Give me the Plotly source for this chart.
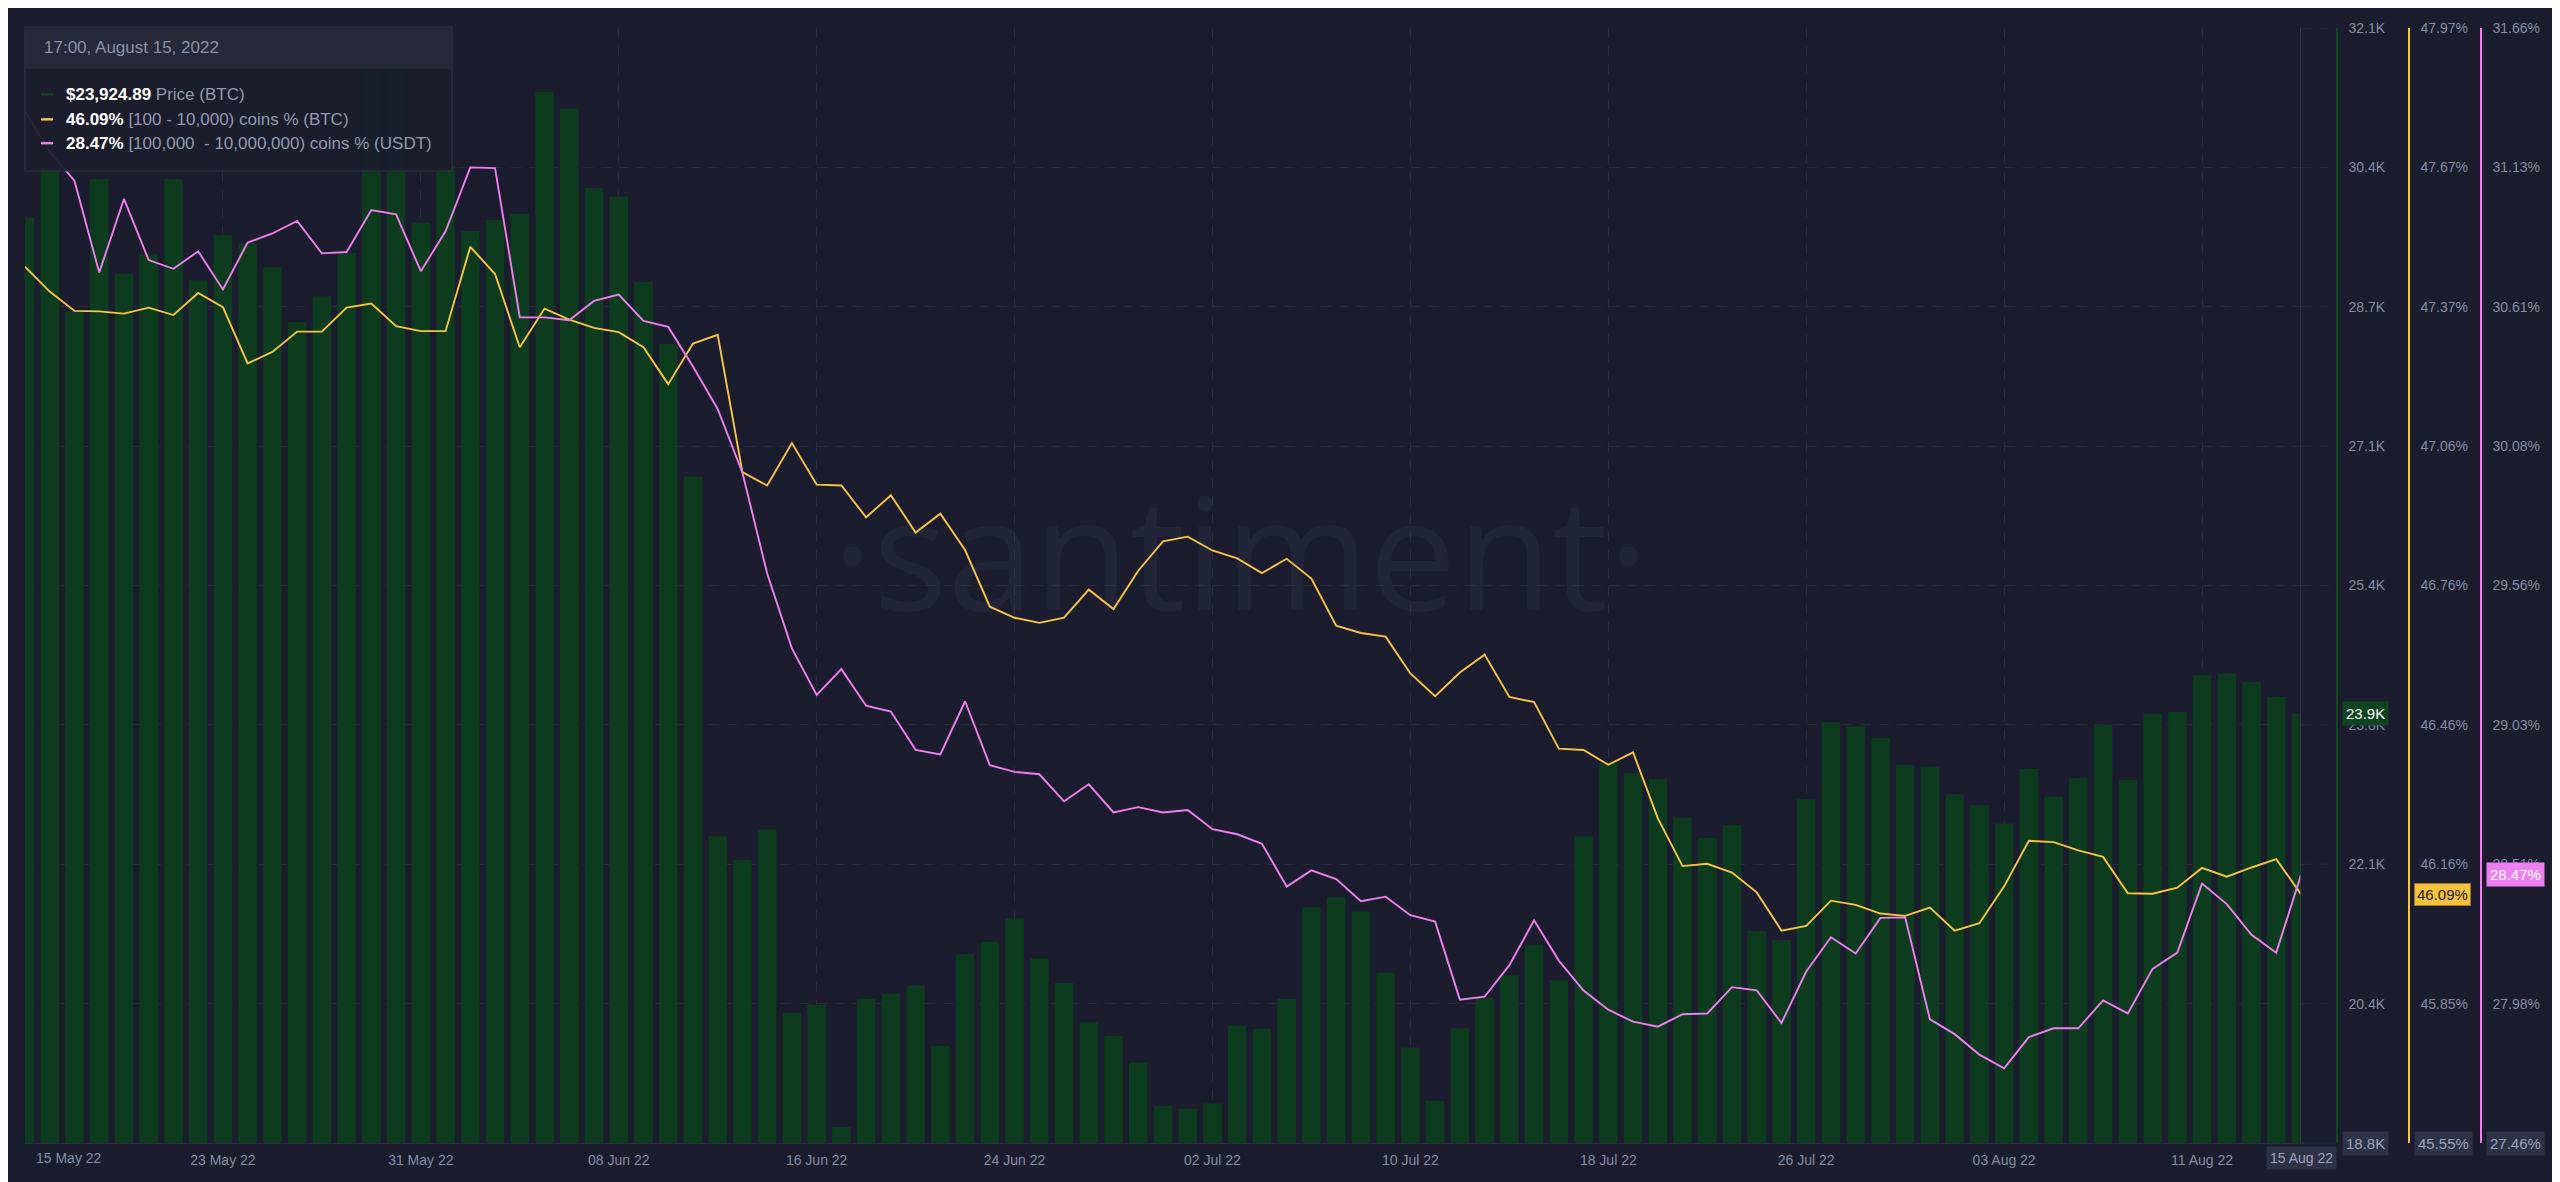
import plotly.graph_objects as go
import pandas as pd

# ---------------- data ----------------
dates = pd.date_range("2022-05-15", "2022-08-15", freq="D")

price_usd = [
    29840, 30420, 28720, 30300, 29170, 29400, 30300, 29090, 29630, 29530,   # 15-24 May
    29250, 28590, 28900, 29420, 31700, 31770, 29780,                        # 25-31 May
    30450, 29680, 29810, 29880, 31340, 31140, 30190, 30090, 29070, 28330,   # 01-10 Jun
    26750, 22460, 22180, 22540, 20350, 20450, 18990, 20520, 20580, 20680,   # 11-20 Jun
    19960, 21050, 21200, 21480, 21000, 20710, 20240, 20080, 19760, 19240,   # 21-30 Jun
    19210, 19270, 20200, 20160, 20520, 21610, 21730, 21560, 20830, 19940,   # 01-10 Jul
    19300, 20170, 20540, 20800, 21160, 20740, 22460, 23340, 23210, 23140,   # 11-20 Jul
    22680, 22440, 22590, 21330, 21220, 22900, 23820, 23770, 23630, 23310,   # 21-30 Jul
    23290,                                                                  # 31 Jul
    22960, 22830, 22610, 23260, 22930, 23150, 23790, 23130, 23920, 23940,   # 01-10 Aug
    24380, 24400, 24300, 24120, 23924.89,                                   # 11-15 Aug
]

coins_btc_pct = [
    47.452, 47.398, 47.356, 47.355, 47.350, 47.363, 47.347, 47.395, 47.364, 47.242,
    47.267, 47.311, 47.311, 47.363, 47.372, 47.323, 47.312,
    47.312, 47.495, 47.436, 47.277, 47.361, 47.337, 47.319, 47.310, 47.277, 47.197,
    47.285, 47.304, 47.006, 46.977, 47.069, 46.979, 46.977, 46.908, 46.956, 46.875,
    46.916, 46.837, 46.714, 46.690, 46.679, 46.690, 46.751, 46.709, 46.792, 46.856,
    46.866, 46.836, 46.819, 46.787, 46.818, 46.775, 46.673, 46.657, 46.649, 46.569,
    46.520, 46.571, 46.610, 46.518, 46.507, 46.406, 46.403, 46.371, 46.398, 46.255,
    46.151, 46.156, 46.137, 46.094, 46.011, 46.021, 46.076, 46.067, 46.048, 46.043,
    46.061,
    46.011, 46.027, 46.107, 46.206, 46.203, 46.185, 46.171, 46.092, 46.091, 46.104,
    46.147, 46.128, 46.148, 46.166, 46.09,
]

coins_usdt_pct = [
    31.346, 31.193, 31.085, 30.739, 31.016, 30.786, 30.753, 30.819, 30.675, 30.852,
    30.886, 30.933, 30.811, 30.816, 30.974, 30.958, 30.744,
    30.894, 31.135, 31.132, 30.570, 30.570, 30.559, 30.632, 30.656, 30.557, 30.534,
    30.385, 30.225, 29.985, 29.605, 29.323, 29.148, 29.245, 29.107, 29.085, 28.941,
    28.924, 29.124, 28.883, 28.858, 28.849, 28.747, 28.811, 28.705, 28.725, 28.705,
    28.714, 28.642, 28.623, 28.587, 28.426, 28.487, 28.454, 28.371, 28.388, 28.318,
    28.294, 28.000, 28.011, 28.130, 28.299, 28.147, 28.034, 27.962, 27.917, 27.898,
    27.945, 27.948, 28.047, 28.035, 27.912, 28.106, 28.235, 28.174, 28.308, 28.310,
    27.926,
    27.870, 27.793, 27.741, 27.859, 27.892, 27.892, 27.997, 27.948, 28.116, 28.177,
    28.437, 28.360, 28.244, 28.177, 28.47,
]

price_ticks = [18800, 20462.5, 22125, 23787.5, 25450, 27112.5, 28775, 30437.5, 32100]
price_tick_text = ["18.8K", "20.4K", "22.1K", "23.8K", "25.4K", "27.1K", "28.7K", "30.4K", "32.1K"]
btc_ticks = [45.55, 45.8525, 46.155, 46.4575, 46.76, 47.0625, 47.365, 47.6675, 47.97]
btc_tick_text = ["45.55%", "45.85%", "46.16%", "46.46%", "46.76%", "47.06%", "47.37%", "47.67%", "47.97%"]
usdt_ticks = [27.46, 27.985, 28.51, 29.035, 29.56, 30.085, 30.61, 31.135, 31.66]
usdt_tick_text = ["27.46%", "27.98%", "28.51%", "29.03%", "29.56%", "30.08%", "30.61%", "31.13%", "31.66%"]

x_tick_dates = ["2022-05-15", "2022-05-23", "2022-05-31", "2022-06-08", "2022-06-16", "2022-06-24",
                "2022-07-02", "2022-07-10", "2022-07-18", "2022-07-26", "2022-08-03", "2022-08-11"]
x_tick_text = ["15 May 22", "23 May 22", "31 May 22", "08 Jun 22", "16 Jun 22", "24 Jun 22",
               "02 Jul 22", "10 Jul 22", "18 Jul 22", "26 Jul 22", "03 Aug 22", "11 Aug 22"]

series_names = ["Price (BTC)", "[100 - 10,000) coins % (BTC)", "[100,000  - 10,000,000) coins % (USDT)"]

# ---------------- style ----------------
BG = "#1b1d2e"
GRID = "#282b3d"
TICK = "#868ba3"
FONT = "Liberation Sans, Arial, sans-serif"
BAR_C = "#0d3b1d"
PRICE_AXIS_C = "#13481f"
YEL = "#f7c544"
PINK = "#ee80ee"
BOX = "#2f3246"

# page body has an 8px margin; geometry below is in screen pixels
OFF = 8
W, H = 2560 - OFF, 1182 - OFF
SCR_L, SCR_R, SCR_T, SCR_B = 25, 2540, 20, 1143     # plot area in screen pixels
ML, MT = SCR_L - OFF, SCR_T - OFF
MR = W - (SCR_R - OFF)
MB = H - (SCR_B - OFF)
PW, PH = SCR_R - SCR_L, SCR_B - SCR_T


def px(x):
    return (x - SCR_L) / PW


def py(y):
    return (SCR_B - y) / PH


fig = go.Figure()
fig.add_trace(go.Bar(x=dates, y=price_usd, name=series_names[0], marker_color=BAR_C,
                     marker_line_width=0, width=0.75 * 86400000, yaxis="y", hoverinfo="skip"))
fig.add_trace(go.Scatter(x=dates, y=coins_btc_pct, name=series_names[1], mode="lines",
                         line=dict(color=YEL, width=1.9), yaxis="y2", hoverinfo="skip"))
fig.add_trace(go.Scatter(x=dates, y=coins_usdt_pct, name=series_names[2], mode="lines",
                         line=dict(color=PINK, width=1.9), yaxis="y3", hoverinfo="skip"))

tickfont = dict(family=FONT, size=14, color=TICK)

fig.update_layout(
    width=W, height=H,
    margin=dict(l=ML, r=MR, t=MT, b=MB),
    paper_bgcolor=BG, plot_bgcolor=BG,
    showlegend=False, hovermode=False,
    xaxis=dict(
        type="date", domain=[0, px(2301)],
        range=[dates[0], dates[-1]],
        tickvals=x_tick_dates[1:], ticktext=x_tick_text[1:],
        showgrid=True, gridcolor=GRID, griddash="10px,8px", gridwidth=1,
        showline=True, linecolor="#2c2f43", linewidth=1,
        ticks="", tickfont=tickfont, ticklabelstandoff=4,
        zeroline=False, fixedrange=True,
    ),
    yaxis=dict(
        side="right", anchor="free", position=px(2337),
        range=[price_ticks[0], price_ticks[-1]],
        tickvals=price_ticks[1:], ticktext=price_tick_text[1:],
        showgrid=True, gridcolor=GRID, griddash="10px,8px",
        showline=True, linecolor=PRICE_AXIS_C, linewidth=1.5,
        ticks="", tickfont=tickfont, ticklabelstandoff=8,
        zeroline=False, fixedrange=True,
    ),
    yaxis2=dict(
        side="right", anchor="free", position=px(2409), overlaying="y",
        range=[btc_ticks[0], btc_ticks[-1]],
        tickvals=btc_ticks[1:], ticktext=btc_tick_text[1:],
        showgrid=False, showline=True, linecolor=YEL, linewidth=1.5,
        ticks="", tickfont=tickfont, ticklabelstandoff=8,
        zeroline=False, fixedrange=True,
    ),
    yaxis3=dict(
        side="right", anchor="free", position=px(2481), overlaying="y",
        range=[usdt_ticks[0], usdt_ticks[-1]],
        tickvals=usdt_ticks[1:], ticktext=usdt_tick_text[1:],
        showgrid=False, showline=True, linecolor=PINK, linewidth=1.5,
        ticks="", tickfont=tickfont, ticklabelstandoff=8,
        zeroline=False, fixedrange=True,
    ),
)

shapes = []
# gridline / axis extension between last data point and price axis
for t in price_ticks[1:]:
    shapes.append(dict(type="line", xref="paper", yref="y", x0=px(2301), x1=px(2337), y0=t, y1=t,
                       line=dict(color=GRID, width=1, dash="10px,8px"), layer="below"))
shapes.append(dict(type="line", xref="paper", yref="paper", x0=px(2301), x1=px(2337), y0=0, y1=0,
                   line=dict(color="#2c2f43", width=1)))
# hover crosshair at latest point
shapes.append(dict(type="line", xref="x", yref="paper", x0=dates[-1], x1=dates[-1], y0=0, y1=1,
                   line=dict(color="#3a3d52", width=1.5)))
# tooltip box
shapes.append(dict(type="rect", xref="paper", yref="paper", x0=px(25), x1=px(452), y0=py(164), y1=py(19),
                   fillcolor="rgba(27,29,45,0.93)", line=dict(color="#35384c", width=1), layer="above"))
shapes.append(dict(type="rect", xref="paper", yref="paper", x0=px(26), x1=px(451), y0=py(61), y1=py(20),
                   fillcolor="rgba(40,42,60,0.95)", line=dict(width=0), layer="above"))
for yy, c in [(87, "#0f4420"), (112, YEL), (136, PINK)]:
    shapes.append(dict(type="line", xref="paper", yref="paper", x0=px(41), x1=px(53), y0=py(yy), y1=py(yy),
                       line=dict(color=c, width=2.5), layer="above"))
fig.update_layout(shapes=shapes)

ann = []
# watermark
ann.append(dict(text="·santiment·", xref="paper", yref="paper", x=px(1240), y=py(545),
                showarrow=False, xanchor="center", yanchor="middle",
                font=dict(family="Open Sans, Roboto, sans-serif", size=156, color="rgba(140,150,215,0.065)")))
# first x label (left edge)
ann.append(dict(text=x_tick_text[0], xref="paper", yref="paper", x=px(34), y=py(1158),
                xanchor="left", yanchor="middle", showarrow=False, font=tickfont))
# tooltip texts
ann.append(dict(text="17:00, August 15, 2022", xref="paper", yref="paper", x=px(42), y=py(40),
                xanchor="left", yanchor="middle", showarrow=False,
                font=dict(family=FONT, size=17, color="#8c91a8")))
rows = [
    (f"${price_usd[-1]:,.2f}", series_names[0], 87),
    (f"{coins_btc_pct[-1]:.2f}%", series_names[1], 112),
    (f"{coins_usdt_pct[-1]:.2f}%", series_names[2], 136),
]
for val, name, yy in rows:
    ann.append(dict(text=f"<span style='color:#ffffff'><b>{val}</b></span> {name.replace('  ', '&nbsp; ')}",
                    xref="paper", yref="paper", x=px(64), y=py(yy), xanchor="left", yanchor="middle",
                    showarrow=False, font=dict(family=FONT, size=17, color="#9499b0")))
# current value boxes
ann.append(dict(text=f"{price_usd[-1] / 1000:.1f}K", xref="paper", yref="y", x=px(2337), y=price_usd[-1],
                xanchor="left", yanchor="middle", xshift=5, showarrow=False, bgcolor="#0f4420",
                borderpad=3, font=dict(family=FONT, size=15, color="#ffffff")))
ann.append(dict(text=f"{coins_btc_pct[-1]:.2f}%", xref="paper", yref="y2", x=px(2409), y=coins_btc_pct[-1],
                xanchor="left", yanchor="middle", xshift=5, showarrow=False, bgcolor="#f5c13c",
                bordercolor="#9c7a25", borderwidth=1, borderpad=2,
                font=dict(family=FONT, size=15, color="#1b1d2e")))
ann.append(dict(text=f"{coins_usdt_pct[-1]:.2f}%", xref="paper", yref="y3", x=px(2481), y=coins_usdt_pct[-1],
                xanchor="left", yanchor="middle", xshift=5, showarrow=False, bgcolor="#ee7ff0",
                borderpad=3, font=dict(family=FONT, size=15, color="#ffffff")))
# bottom (min) boxes
for txt, yref, val, xpos in [(price_tick_text[0], "y", price_ticks[0], 2337),
                             (btc_tick_text[0], "y2", btc_ticks[0], 2409),
                             (usdt_tick_text[0], "y3", usdt_ticks[0], 2481)]:
    ann.append(dict(text=txt, xref="paper", yref=yref, x=px(xpos), y=val, xanchor="left", yanchor="middle",
                    xshift=5, showarrow=False, bgcolor=BOX, borderpad=3,
                    font=dict(family=FONT, size=15, color="#9ea3bb")))
# hovered date box on x axis
ann.append(dict(text=dates[-1].strftime("%d %b %y"), xref="x", yref="paper", x=dates[-1], y=py(1158),
                xanchor="center", yanchor="middle", showarrow=False, bgcolor=BOX, borderpad=3,
                font=dict(family=FONT, size=14, color="#9ea3bb")))
fig.update_layout(annotations=ann)

fig.write_html("out.html")
